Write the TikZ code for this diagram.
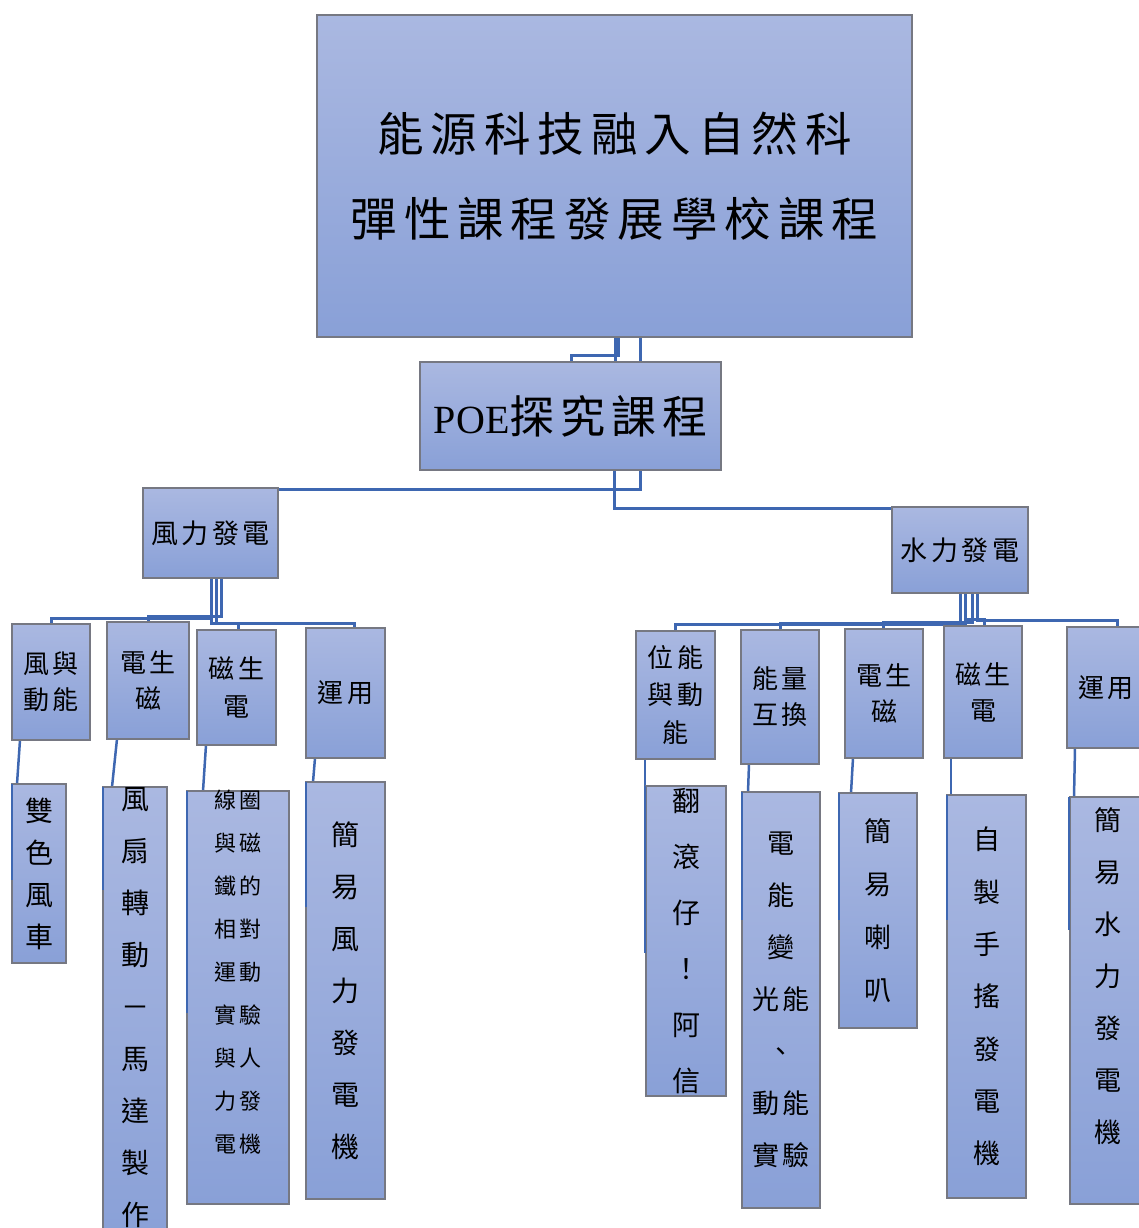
\documentclass[tikz,border=0pt]{standalone}
\usepackage{fontspec}
\newfontfamily\cjk[LetterSpace=13]{Noto Sans CJK TC}
\newfontfamily\cjkt[LetterSpace=15]{Noto Sans CJK TC}
\newfontfamily\lat{Liberation Serif}
\usetikzlibrary{calc}
\definecolor{boxtop}{RGB}{170,184,225}
\definecolor{boxbot}{RGB}{137,160,215}
\definecolor{boxline}{RGB}{118,120,130}
\definecolor{connc}{RGB}{62,103,177}
\pgfdeclarelayer{bg}
\pgfsetlayers{bg,main}
\tikzset{
  box/.style={rectangle, anchor=north west, inner sep=0pt, outer sep=0pt,
    top color=boxtop, bottom color=boxbot, draw=boxline, line width=1.3pt,
    align=center, text=black},
  conn/.style={draw=connc, line width=3pt},
  connb/.style={draw=connc, line width=2.5pt},
  edgeln/.style={draw=connc, line width=1.6pt},
  lbl/.style={align=center, inner sep=0pt, text=black},
  ttl/.style={font=\cjkt\fontsize{46.5}{85}\selectfont},
  lvone/.style={font=\cjk\fontsize{27}{30}\selectfont},
  lvtwo/.style={font=\cjk\fontsize{26}{36}\selectfont},
}
\begin{document}
\begin{tikzpicture}[x=1pt,y=-1pt]
\useasboundingbox (0,0) rectangle (1139,1228);
% ---------- boxes ----------
\node[box, ttl, minimum width=595pt, minimum height=322pt] (top) at (317,15) {能源科技融入自然科\\彈性課程發展學校課程};
\node[box, minimum width=301pt, minimum height=108pt, font=\cjk\fontsize{45}{50}\selectfont] (poe) at (420,362) {{\lat\fontsize{40}{50}\selectfont POE}探究課程};
\node[box, lvone, minimum width=135pt, minimum height=90pt] (wind) at (143,488) {風力發電};
\node[box, lvone, minimum width=136pt, minimum height=86pt] (water) at (892,507) {水力發電};
% wind children
\node[box, lvtwo, minimum width=78pt, minimum height=116pt] (w1) at (12,624) {風與\\動能};
\node[box, lvtwo, minimum width=82pt, minimum height=117pt] (w2) at (107,622) {電生\\磁};
\node[box, lvtwo, minimum width=79pt, minimum height=115pt, font=\cjk\fontsize{26}{38}\selectfont] (w3) at (197,630) {磁生\\電};
\node[box, lvtwo, minimum width=79pt, minimum height=130pt] (w4) at (306,628) {運用};
% water children
\node[box, font=\cjk\fontsize{26}{37.5}\selectfont, minimum width=79pt, minimum height=128pt] (h1) at (636,631) {位能\\與動\\能};
\node[box, lvtwo, minimum width=78pt, minimum height=134pt] (h2) at (741,630) {能量\\互換};
\node[box, lvtwo, minimum width=78pt, minimum height=129pt] (h3) at (845,629) {電生\\磁};
\node[box, lvtwo, minimum width=78pt, minimum height=132pt] (h4) at (944,626) {磁生\\電};
\node[box, lvtwo, minimum width=78pt, minimum height=121pt] (h5) at (1067,627) {運用};
% wind grandchildren
\node[box, font=\cjk\fontsize{28}{42}\selectfont, minimum width=54pt, minimum height=179pt] (g1) at (12,784) {雙\\色\\風\\車};
\node[box, minimum width=64pt, minimum height=460pt] (g2) at (103,787) {};
\node[box, minimum width=102pt, minimum height=413pt] (g3) at (187,791) {};
\node[box, font=\cjk\fontsize{28}{52}\selectfont, minimum width=79pt, minimum height=417pt] (g4) at (306,782) {簡\\易\\風\\力\\發\\電\\機};
% water grandchildren
\node[box, font=\cjk\fontsize{28}{56}\selectfont, minimum width=80pt, minimum height=310pt] (k1) at (646,786) {翻\\滾\\仔\\！\\阿\\信};
\node[box, font=\cjk\fontsize{27}{52}\selectfont, minimum width=78pt, minimum height=416pt] (k2) at (742,792) {電\\能\\變\\光能\\、\\動能\\實驗};
\node[box, font=\cjk\fontsize{27}{53}\selectfont, minimum width=78pt, minimum height=235pt] (k3) at (839,793) {簡\\易\\喇\\叭};
\node[box, font=\cjk\fontsize{27}{52.3}\selectfont, minimum width=79pt, minimum height=403pt] (k4) at (947,795) {自\\製\\手\\搖\\發\\電\\機};
\node[box, minimum width=78pt, minimum height=407pt] (k5) at (1070,797) {};
% texts placed off-centre
\node[lbl, font=\cjk\fontsize{28}{52}\selectfont] (g2t) at (135,1007.5) {風\\扇\\轉\\動\\－\\馬\\達\\製\\作};
\node[lbl, font=\cjk\fontsize{22}{43}\selectfont] (g3t) at (238,972.5) {線圈\\與磁\\鐵的\\相對\\運動\\實驗\\與人\\力發\\電機};
\node[lbl, font=\cjk\fontsize{27}{52}\selectfont] (k5t) at (1108,976) {簡\\易\\水\\力\\發\\電\\機};
% ---------- connectors ----------
\begin{pgfonlayer}{bg}
\draw[conn] ($(top.south west)+(298,0)$) -- ($(poe.north west)+(195,0)$);
\draw[conn] ($(top.south west)+(301,0)$) |- ($(poe.north west)+(151,-7)$) -- ($(poe.north west)+(151,0)$);
\draw[conn] ($(top.south west)+(323,0)$) -- ($(poe.north west)+(220,0)$);
\draw[conn] ($(poe.south west)+(220,0)$) |- ($(wind.north east)+(0,1)$);
\draw[conn] ($(poe.south west)+(194,0)$) |- ($(water.north west)+(0,1)$);
% wind children
\draw[conn] ($(wind.south west)+(68,0)$) |- ($(w1.north west)+(39,-6)$) -- ($(w1.north west)+(39,0)$);
\draw[conn] ($(wind.south west)+(78,0)$) |- ($(w2.north west)+(41,-6)$) -- ($(w2.north west)+(41,0)$);
\draw[conn] ($(wind.south west)+(73,0)$) |- ($(w3.north west)+(41,-7)$) -- ($(w3.north west)+(41,0)$);
\draw[conn] ($(wind.south west)+(68,0)$) |- ($(w4.north west)+(48,-5)$) -- ($(w4.north west)+(48,0)$);
% water children
\draw[conn] ($(water.south west)+(68,0)$) |- ($(h1.north west)+(39,-7)$) -- ($(h1.north west)+(39,0)$);
\draw[conn] ($(water.south west)+(73,0)$) |- ($(h2.north west)+(39,-7)$) -- ($(h2.north west)+(39,0)$);
\draw[conn] ($(water.south west)+(80,0)$) |- ($(h3.north west)+(38,-7)$) -- ($(h3.north west)+(38,0)$);
\draw[conn] ($(water.south west)+(73,0)$) |- ($(h4.north west)+(40,-7)$) -- ($(h4.north west)+(40,0)$);
\draw[conn] ($(water.south west)+(85,0)$) |- ($(h5.north west)+(50,-7)$) -- ($(h5.north west)+(50,0)$);
% grandchildren
\draw[connb] ($(w1.south west)+(8,0)$) -- ($(g1.north west)+(5,0)$);
\draw[connb] ($(w2.south west)+(10,0)$) -- ($(g2.north west)+(9,0)$);
\draw[connb] ($(w3.south west)+(9,0)$) -- ($(g3.north west)+(16,0)$);
\draw[connb] ($(w4.south west)+(9,0)$) -- ($(g4.north west)+(7,0)$);
\draw[connb] ($(h1.south west)+(9,0)$) -- ($(k1.north west)+(-1,0)$);
\draw[connb] ($(h2.south west)+(8,0)$) -- ($(k2.north west)+(6,0)$);
\draw[connb] ($(h3.south west)+(8,0)$) -- ($(k3.north west)+(12,0)$);
\draw[connb] ($(h4.south west)+(7,0)$) -- ($(k4.north west)+(4,0)$);
\draw[connb] ($(h5.south west)+(8,0)$) -- ($(k5.north west)+(4,0)$);
\end{pgfonlayer}
% thin connector remnants along left edges
\draw[edgeln] (g1.north west) -- ($(g1.north west)+(0,96)$);
\draw[edgeln] (g2.north west) -- ($(g2.north west)+(0,103)$);
\draw[edgeln] (g3.north west) -- ($(g3.north west)+(0,222)$);
\draw[edgeln] (g4.north west) -- ($(g4.north west)+(0,125)$);
\draw[edgeln] ($(k1.north west)+(-1,0)$) -- ($(k1.north west)+(-1,167)$);
\draw[edgeln] (k2.north west) -- ($(k2.north west)+(0,128)$);
\draw[edgeln] (k3.north west) -- ($(k3.north west)+(0,127)$);
\draw[edgeln] (k4.north west) -- ($(k4.north west)+(0,125)$);
\draw[edgeln] ($(k5.north west)+(-1,0)$) -- ($(k5.north west)+(-1,133)$);
\end{tikzpicture}
\end{document}
